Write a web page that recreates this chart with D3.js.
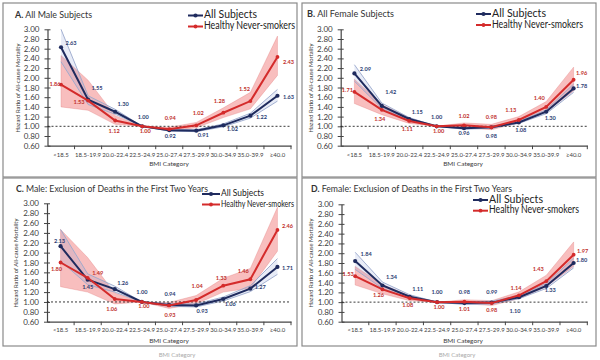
<!DOCTYPE html>
<html><head><meta charset="utf-8">
<script src="https://cdn.jsdelivr.net/npm/d3@7"></script>
<style>
body{margin:0;background:#fff}
svg{display:block}
text{font-family:Lato,"Open Sans",sans-serif}
</style>
</head><body>
<svg id="chart" width="600" height="360"></svg>
<script>
// ---------- DATA ----------
const catLabels = ["<18.5","18.5-19.9","20.0-22.4","22.5-24.9","25.0-27.4","27.5-29.9","30.0-34.9","35.0-39.9","≥40.0"];
const yTickValues = [0.6,0.8,1.0,1.2,1.4,1.6,1.8,2.0,2.2,2.4,2.6,2.8,3.0];
const panelLetters = ["A.","B.","C.","D."];
const panelTitles = ["All Male Subjects","All Female Subjects","Male: Exclusion of Deaths in the First Two Years","Female: Exclusion of Deaths in the First Two Years"];
const seriesNames = ["All Subjects","Healthy Never-smokers"];
const xAxisTitle = "BMI Category";
const yAxisTitle = "Hazard Ratio of All-cause Mortality";

// A. All male subjects
const allA   = [2.63,1.55,1.30,1.00,0.92,0.91,1.02,1.22,1.63];
const allALo = [2.33,1.45,1.25,1.00,0.90,0.89,0.99,1.17,1.52];
const allAHi = [3.00,1.63,1.35,1.00,0.94,0.93,1.05,1.27,1.76];
const hnsA   = [1.86,1.53,1.12,1.00,0.94,1.02,1.28,1.52,2.43];
const hnsALo = [1.40,1.33,1.04,1.00,0.90,0.97,1.18,1.36,2.05];
const hnsAHi = [2.46,1.95,1.22,1.00,0.98,1.08,1.38,1.70,2.86];
// B. All female subjects
const allB   = [2.09,1.42,1.15,1.00,0.96,0.98,1.08,1.30,1.78];
const allBLo = [1.93,1.37,1.12,1.00,0.94,0.96,1.06,1.26,1.70];
const allBHi = [2.27,1.48,1.18,1.00,0.98,1.00,1.10,1.34,1.87];
const hnsB   = [1.71,1.34,1.11,1.00,1.02,0.98,1.13,1.40,1.96];
const hnsBLo = [1.47,1.24,1.06,1.00,0.97,0.93,1.07,1.30,1.73];
const hnsBHi = [1.97,1.45,1.17,1.00,1.07,1.04,1.20,1.51,2.22];
// C. Male, excluding deaths in first two years
const allC   = [2.13,1.45,1.26,1.00,0.94,0.93,1.06,1.27,1.71];
const allCLo = [1.83,1.35,1.20,1.00,0.91,0.90,1.02,1.21,1.56];
const allCHi = [2.47,1.57,1.32,1.00,0.97,0.96,1.10,1.33,1.88];
const hnsC   = [1.80,1.49,1.06,1.00,0.93,1.04,1.33,1.46,2.46];
const hnsCLo = [1.31,1.20,0.96,1.00,0.87,0.96,1.20,1.28,2.03];
const hnsCHi = [2.47,1.90,1.18,1.00,0.99,1.13,1.48,1.68,2.92];
// D. Female, excluding deaths in first two years
const allD   = [1.84,1.34,1.11,1.00,0.98,0.99,1.10,1.33,1.80];
const allDLo = [1.67,1.28,1.07,1.00,0.95,0.96,1.07,1.28,1.70];
const allDHi = [2.02,1.41,1.15,1.00,1.01,1.02,1.13,1.38,1.90];
const hnsD   = [1.53,1.26,1.08,1.00,1.01,0.98,1.14,1.43,1.97];
const hnsDLo = [1.35,1.17,1.03,1.00,0.97,0.93,1.07,1.32,1.73];
const hnsDHi = [1.73,1.36,1.13,1.00,1.05,1.03,1.21,1.55,2.23];

// ---------- LAYOUT (positions / offsets, kept separate from data) ----------
const layouts = [
  {box:[3,3,294,174], xr:[47.5,291], yr:[145.7,29.3], title:[15,18], tfs:10, tlen:77,
   leg:{x0:188,x1:203,y1:15.5,y2:26.5,fs:10.5,w1:53,w2:91}, ylab:[20,88], xlabY:157, bmi:[169,166],
   offAll:[[10,-4],[9,-11],[8,-7],[1,-9],[1,6],[7,5],[9,4],[11,2],[11,2]],
   offHns:[[-6,0],[-9,2],[-1,11],[3,5],[1,-11],[2,-12],[-4,-11],[-6,-12],[11,6]]},
  {box:[302,3,294,174], xr:[340.7,587.3], yr:[145.7,29.3], title:[307,17], tfs:10, tlen:87,
   leg:{x0:476,x1:491,y1:14,y2:25,fs:10.5,w1:54,w2:91}, ylab:[313,88], xlabY:157, bmi:[463,166],
   offAll:[[11,-4],[9,-13],[8,-6],[0,-9],[0,5],[0,9],[2,8],[4,7],[8,-2]],
   offHns:[[-7,-1],[-2,10],[-2,9],[2,5],[0,-9],[0,-10],[-8,-9],[-7,-8],[8,-6]]},
  {box:[3,178,294,168], xr:[47,291], yr:[321.7,203.3], title:[16,192], tfs:9.6, tlen:192,
   leg:{x0:202,x1:220,y1:194,y2:204.5,fs:9.2,w1:43,w2:73}, ylab:[18,263], xlabY:332, bmi:[169,343],
   offAll:[[-1,-5],[0,8],[8,-6],[0,-9],[1,-10],[6,6],[7,6],[10,-1],[10,2]],
   offHns:[[-4,7],[10,-4],[-3,11],[2,5],[1,10],[1,-13],[-2,-7],[-7,-8],[10,-3]]},
  {box:[302,178,294,168], xr:[341.5,587.3], yr:[321.7,204.3], title:[311,192], tfs:9.6, tlen:201,
   leg:{x0:473,x1:488,y1:200,y2:210.7,fs:10.5,w1:54,w2:90}, ylab:[313,263], xlabY:332, bmi:[463,343],
   offAll:[[11,-6],[9,-8],[8,-7],[0,-10],[0,-11],[0,-10],[-4,14],[4,5],[8,-2]],
   offHns:[[-7,-2],[-4,6],[-2,7],[2,5],[0,8],[0,7],[-3,-7],[-8,-12],[9,-3]]}
];

const panelSeries = [
  {all:allA, allLo:allALo, allHi:allAHi, hns:hnsA, hnsLo:hnsALo, hnsHi:hnsAHi},
  {all:allB, allLo:allBLo, allHi:allBHi, hns:hnsB, hnsLo:hnsBLo, hnsHi:hnsBHi},
  {all:allC, allLo:allCLo, allHi:allCHi, hns:hnsC, hnsLo:hnsCLo, hnsHi:hnsCHi},
  {all:allD, allLo:allDLo, allHi:allDHi, hns:hnsD, hnsLo:hnsDLo, hnsHi:hnsDHi}
];

const NAVY = "#1f2b5e", RED = "#d42b2b";
const NAVY_LBL = "#2b3d73", RED_LBL = "#c0302b";

const svg = d3.select("#chart");
svg.append("rect").attr("width",600).attr("height",360).attr("fill","#fff");

// faint repeated axis title at the very bottom of the picture
svg.append("text").attr("x",177).attr("y",356.5).attr("text-anchor","middle")
  .attr("font-size",6).attr("fill","#aaa").text(xAxisTitle);
svg.append("text").attr("x",457).attr("y",356.5).attr("text-anchor","middle")
  .attr("font-size",6).attr("fill","#aaa").text(xAxisTitle);

layouts.forEach((L, pi) => {
  const S = panelSeries[pi];
  const g = svg.append("g");
  g.append("rect").attr("x",L.box[0]).attr("y",L.box[1]).attr("width",L.box[2]).attr("height",L.box[3])
    .attr("fill","#fff").attr("stroke","#8a8a8a").attr("stroke-width",1.2);

  const x = d3.scaleBand().domain(catLabels).range(L.xr).padding(0);
  const y = d3.scaleLinear().domain([0.6,3.0]).range(L.yr);
  const cx = i => x(catLabels[i]) + x.bandwidth()/2;

  // title
  const t = g.append("text").attr("x",L.title[0]).attr("y",L.title[1]).attr("font-size",L.tfs).attr("fill","#333")
    .attr("textLength",L.tlen).attr("lengthAdjust","spacingAndGlyphs");
  t.append("tspan").attr("font-weight","bold").text(panelLetters[pi]);
  t.append("tspan").text(" " + panelTitles[pi]);

  // y axis
  const yAxis = d3.axisLeft(y).tickValues(yTickValues).tickFormat(d3.format(".2f")).tickSizeInner(3).tickSizeOuter(0).tickPadding(5);
  const ya = g.append("g").attr("transform",`translate(${L.xr[0]},0)`).call(yAxis);
  ya.select(".domain").attr("stroke","#444").attr("stroke-width",1.2);
  ya.selectAll(".tick line").attr("stroke","#444").attr("x2",-3).attr("x1",3);
  ya.selectAll(".tick text").attr("font-size",8).attr("fill","#404040").attr("font-family","Lato, sans-serif");

  // x axis
  const xAxis = d3.axisBottom(x).tickSize(0).tickPadding(6);
  const xa = g.append("g").attr("transform",`translate(0,${L.yr[0]})`).call(xAxis);
  xa.select(".domain").attr("stroke","#444").attr("stroke-width",1.2);
  xa.selectAll(".tick text").attr("font-size",6).attr("fill","#404040").attr("font-family","Lato, sans-serif")
    .attr("dy",null).attr("transform",null).attr("y", L.xlabY - L.yr[0]);
  // ticks between categories
  g.selectAll(".xt").data(catLabels).enter().append("line")
    .attr("x1",(d,i)=> x.range()[0] + x.bandwidth()*(i+1))
    .attr("x2",(d,i)=> x.range()[0] + x.bandwidth()*(i+1))
    .attr("y1",L.yr[0]).attr("y2",L.yr[0]+3.5).attr("stroke","#444").attr("stroke-width",1);

  // axis titles
  g.append("text").attr("x",L.bmi[0]).attr("y",L.bmi[1]).attr("text-anchor","middle")
    .attr("font-size",6.5).attr("fill","#404040").text(xAxisTitle);
  g.append("text").attr("transform",`translate(${L.ylab[0]},${L.ylab[1]}) rotate(-90)`).attr("text-anchor","middle")
    .attr("font-size",5.8).attr("fill","#404040").text(yAxisTitle);

  const idx = d3.range(catLabels.length);
  // red CI band
  g.append("path").datum(idx)
    .attr("d", d3.area().x(i=>cx(i)).y0(i=>y(S.hnsLo[i])).y1(i=>y(S.hnsHi[i])))
    .attr("fill","rgba(238,100,100,0.42)").attr("stroke","rgba(220,110,110,0.5)").attr("stroke-width",0.6);
  // navy CI band
  g.append("path").datum(idx)
    .attr("d", d3.area().x(i=>cx(i)).y0(i=>y(S.allLo[i])).y1(i=>y(S.allHi[i])))
    .attr("fill","rgba(130,150,210,0.18)");
  [S.allLo, S.allHi].forEach(arr => {
    g.append("path").datum(idx).attr("d", d3.line().x(i=>cx(i)).y(i=>y(arr[i])))
      .attr("fill","none").attr("stroke","#9aa8cc").attr("stroke-width",0.9);
  });

  // reference line at 1.00
  g.append("line").attr("x1",L.xr[0]).attr("x2",L.xr[1]).attr("y1",y(1)).attr("y2",y(1))
    .attr("stroke","#222").attr("stroke-width",0.9).attr("stroke-dasharray","2,2");

  // series lines
  const line = arr => d3.line().x(i=>cx(i)).y(i=>y(arr[i]))(idx);
  g.append("path").attr("d",line(S.all)).attr("fill","none").attr("stroke",NAVY).attr("stroke-width",2);
  g.selectAll(".ma").data(idx).enter().append("circle")
    .attr("cx",i=>cx(i)).attr("cy",i=>y(S.all[i])).attr("r",2.1).attr("fill",NAVY);
  g.append("path").attr("d",line(S.hns)).attr("fill","none").attr("stroke",RED).attr("stroke-width",2);
  g.selectAll(".mh").data(idx).enter().append("circle")
    .attr("cx",i=>cx(i)).attr("cy",i=>y(S.hns[i])).attr("r",1.9).attr("fill",RED);

  // data labels
  g.selectAll(".la").data(idx).enter().append("text")
    .attr("x",i=>cx(i)+L.offAll[i][0]).attr("y",i=>y(S.all[i])+L.offAll[i][1])
    .attr("text-anchor","middle").attr("dominant-baseline","middle")
    .attr("font-size",5.6).attr("font-weight","bold").attr("fill",NAVY_LBL)
    .text(i=>S.all[i].toFixed(2));
  g.selectAll(".lh").data(idx).enter().append("text")
    .attr("x",i=>cx(i)+L.offHns[i][0]).attr("y",i=>y(S.hns[i])+L.offHns[i][1])
    .attr("text-anchor","middle").attr("dominant-baseline","middle")
    .attr("font-size",5.6).attr("font-weight","bold").attr("fill",RED_LBL)
    .text(i=>S.hns[i].toFixed(2));

  // legend
  const lg = L.leg;
  [[NAVY, lg.y1, seriesNames[0], 2.1, lg.w1],[RED, lg.y2, seriesNames[1], 1.9, lg.w2]].forEach(([c,yy,name,r,w]) => {
    g.append("line").attr("x1",lg.x0).attr("x2",lg.x1).attr("y1",yy).attr("y2",yy).attr("stroke",c).attr("stroke-width",2);
    g.append("circle").attr("cx",(lg.x0+lg.x1)/2).attr("cy",yy).attr("r",r).attr("fill",c);
    g.append("text").attr("x",lg.x1+1).attr("y",yy).attr("dominant-baseline","middle")
      .attr("font-size",lg.fs).attr("fill","#222")
      .attr("textLength",w).attr("lengthAdjust","spacingAndGlyphs").text(name);
  });
});
</script>
</body></html>
